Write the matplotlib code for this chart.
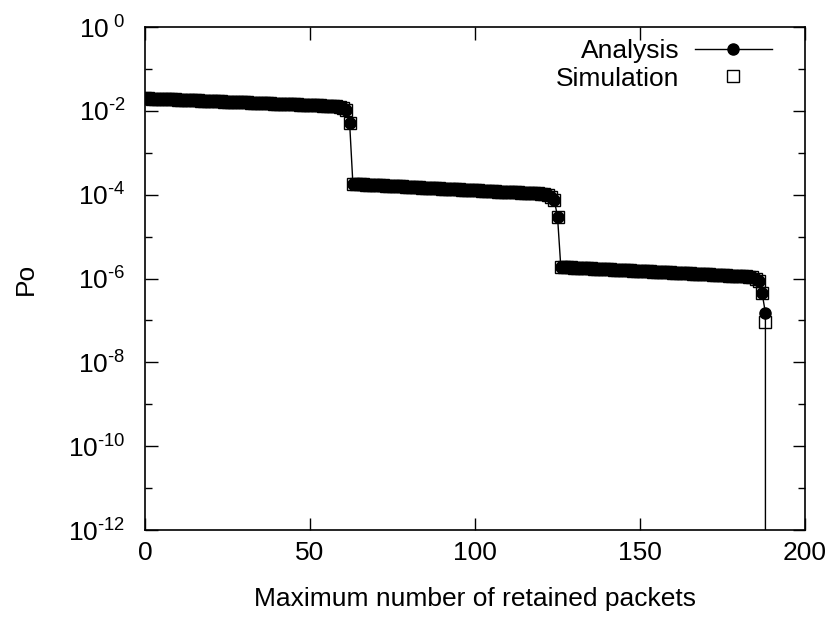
import matplotlib
matplotlib.use("Agg")
import matplotlib.pyplot as plt
from matplotlib.ticker import FixedLocator, NullFormatter

plt.rcParams['font.family'] = ['Liberation Sans', 'DejaVu Sans']
plt.rcParams['mathtext.fontset'] = 'custom'
plt.rcParams['mathtext.rm'] = 'Liberation Sans'
plt.rcParams['mathtext.it'] = 'Liberation Sans'

# Maximum number of retained packets n = 0 .. 189
seg1 = [0.0200, 0.0198, 0.0197, 0.0195, 0.0194, 0.0192, 0.0191, 0.0190, 0.0188, 0.0187,
        0.0185, 0.0184, 0.0183, 0.0181, 0.0180, 0.0179, 0.0177, 0.0176, 0.0175, 0.0173,
        0.0172, 0.0171, 0.0170, 0.0168, 0.0167, 0.0166, 0.0165, 0.0163, 0.0162, 0.0161,
        0.0160, 0.0159, 0.0157, 0.0156, 0.0155, 0.0154, 0.0153, 0.0152, 0.0151, 0.0149,
        0.0148, 0.0147, 0.0146, 0.0145, 0.0144, 0.0143, 0.0142, 0.0141, 0.0140, 0.0139,
        0.0138, 0.0137, 0.0136, 0.0135, 0.0134, 0.0133, 0.0132, 0.0131, 0.0128, 0.0124,
        0.0117, 0.0104, 0.0052]
seg2 = [1.80e-4, 1.78e-4, 1.77e-4, 1.75e-4, 1.73e-4, 1.72e-4, 1.70e-4, 1.69e-4, 1.67e-4, 1.66e-4,
        1.64e-4, 1.63e-4, 1.61e-4, 1.60e-4, 1.58e-4, 1.57e-4, 1.55e-4, 1.54e-4, 1.52e-4, 1.51e-4,
        1.49e-4, 1.48e-4, 1.47e-4, 1.45e-4, 1.44e-4, 1.43e-4, 1.41e-4, 1.40e-4, 1.39e-4, 1.37e-4,
        1.36e-4, 1.35e-4, 1.34e-4, 1.32e-4, 1.31e-4, 1.30e-4, 1.29e-4, 1.27e-4, 1.26e-4, 1.25e-4,
        1.24e-4, 1.23e-4, 1.22e-4, 1.21e-4, 1.19e-4, 1.18e-4, 1.17e-4, 1.16e-4, 1.15e-4, 1.14e-4,
        1.13e-4, 1.12e-4, 1.11e-4, 1.10e-4, 1.09e-4, 1.08e-4, 1.07e-4, 1.05e-4, 1.02e-4, 0.97e-4,
        0.90e-4, 0.76e-4, 0.30e-4]
seg3 = [1.90e-6, 1.88e-6, 1.87e-6, 1.85e-6, 1.83e-6, 1.82e-6, 1.80e-6, 1.78e-6, 1.77e-6, 1.75e-6,
        1.73e-6, 1.72e-6, 1.70e-6, 1.69e-6, 1.67e-6, 1.66e-6, 1.64e-6, 1.63e-6, 1.61e-6, 1.60e-6,
        1.58e-6, 1.57e-6, 1.55e-6, 1.54e-6, 1.52e-6, 1.51e-6, 1.49e-6, 1.48e-6, 1.47e-6, 1.45e-6,
        1.44e-6, 1.43e-6, 1.41e-6, 1.40e-6, 1.39e-6, 1.37e-6, 1.36e-6, 1.35e-6, 1.34e-6, 1.32e-6,
        1.31e-6, 1.30e-6, 1.29e-6, 1.27e-6, 1.26e-6, 1.25e-6, 1.24e-6, 1.23e-6, 1.22e-6, 1.21e-6,
        1.19e-6, 1.18e-6, 1.17e-6, 1.16e-6, 1.15e-6, 1.14e-6, 1.12e-6, 1.10e-6, 1.06e-6, 0.98e-6,
        0.85e-6, 0.45e-6, 1.5e-7, 0.0]

analysis_po = seg1 + seg2 + seg3
analysis_n = list(range(len(analysis_po)))

# Simulation matches analysis; last measured point slightly lower
sim_po = analysis_po[:-2] + [9e-8]
sim_n = list(range(len(sim_po)))

xticks = [0, 50, 100, 150, 200]
yticks_exp = [0, -2, -4, -6, -8, -10, -12]
ytick_labels = ['10$^{\\ 0}$', '10$^{\\text{-2}}$', '10$^{\\text{-4}}$', '10$^{\\text{-6}}$',
                '10$^{\\text{-8}}$', '10$^{\\text{-10}}$', '10$^{\\text{-12}}$']

FS = 19

fig = plt.figure(figsize=(8.30, 6.17), dpi=100)
ax = fig.add_axes([0.1747, 0.141, 0.7952, 0.8152])
ax.set_yscale('log', nonpositive='clip')

ax.plot(analysis_n, analysis_po, color='black', lw=1.0, marker='o', ms=8,
        mfc='black', mec='black', label='Analysis', zorder=3)
ax.plot(sim_n, sim_po, ls='none', marker='s', ms=9, mfc='none', mec='black',
        mew=1.0, label='Simulation', zorder=4)

ax.set_xlim(0, 200)
ax.set_ylim(1e-12, 1)
ax.xaxis.set_major_locator(FixedLocator(xticks))
ax.yaxis.set_major_locator(FixedLocator([10.0 ** e for e in yticks_exp]))
ax.yaxis.set_minor_locator(FixedLocator([10.0 ** e for e in range(-11, 0, 2)]))
ax.yaxis.set_minor_formatter(NullFormatter())
ax.set_yticklabels(ytick_labels)

ax.tick_params(which='both', direction='in', top=True, right=True, labelsize=FS, width=1)
ax.tick_params(axis='y', which='major', length=9, pad=14)
ax.tick_params(axis='x', which='major', length=9, pad=8)
ax.tick_params(which='minor', length=5)
for s in ax.spines.values():
    s.set_linewidth(1.2)

ax.set_xlabel('Maximum number of retained packets', fontsize=FS, labelpad=16)
ax.set_ylabel('Po', fontsize=FS, labelpad=22)

leg = ax.legend(loc='upper right', bbox_to_anchor=(1 - 15 / 660, 1 + 6 / 503),
                frameon=False, markerfirst=False, fontsize=FS,
                handlelength=2.9, borderaxespad=0.4, labelspacing=0.12, handletextpad=0.6,
                borderpad=0.3)

fig.savefig('out.png', dpi=100)
